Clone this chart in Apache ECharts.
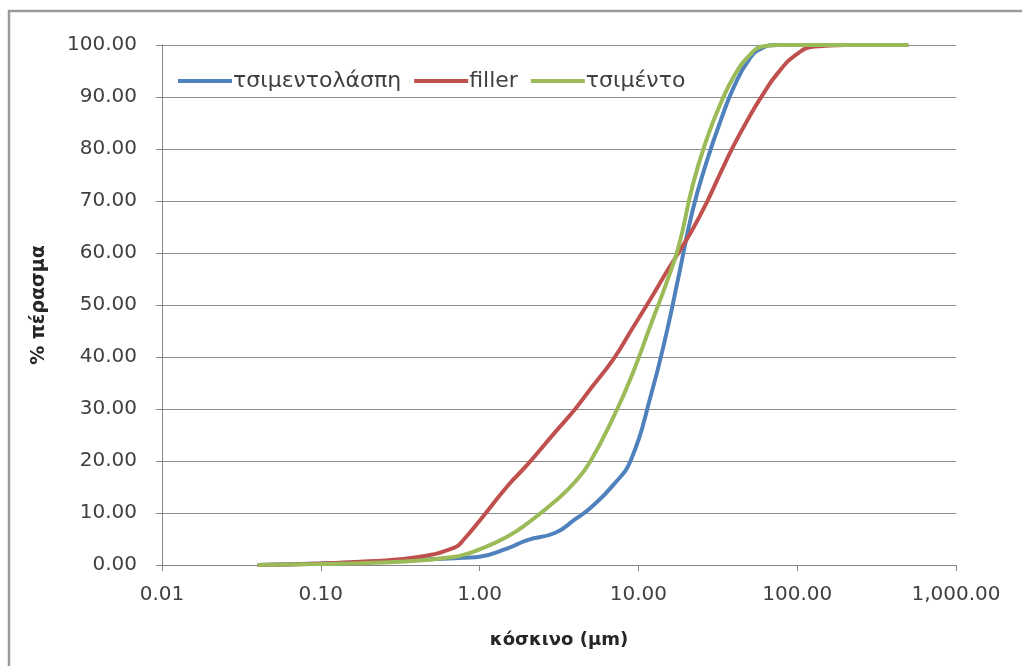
<!DOCTYPE html>
<html>
<head>
<meta charset="utf-8">
<script src="https://cdn.jsdelivr.net/npm/echarts@6/dist/echarts.min.js"></script>
<style>
  html, body { margin: 0; padding: 0; background: #fff; }
  #chart { width: 1022px; height: 666px; }
</style>
</head>
<body>
<div id="chart"></div>
<script>
// sieve sizes (μm) and % passing
const sizes = [0.04, 0.1, 0.2, 0.4, 0.7, 0.8, 1, 1.5, 2, 3, 4, 5, 7, 9, 12, 15, 18, 22, 27, 33, 40, 50, 60, 75, 100, 130, 200, 500]
const slurry = [0, 0.3, 0.6, 1.0, 1.3, 1.4, 1.6, 3.2, 4.8, 6.2, 8.8, 11, 15.5, 20.3, 32.7, 44.5, 55.8, 68.3, 77.7, 85.5, 92, 97.3, 99.4, 100, 100, 100, 100, 100]
const filler = [0, 0.3, 0.7, 1.5, 3.4, 5.0, 8.5, 15.2, 19.3, 25.6, 30, 33.9, 39.7, 45.1, 51.3, 56.3, 60.2, 64.6, 69.8, 75.5, 80.8, 86.2, 90.2, 94.5, 98.3, 99.7, 100, 100]
const cement = [0, 0.2, 0.4, 0.8, 1.6, 2.0, 3.0, 5.5, 8, 12.3, 16, 20, 28.6, 36.1, 46.3, 54.2, 61.5, 73.1, 82, 88.8, 94, 98, 99.7, 100, 100, 100, 100, 100]

const seriesNames = ['τσιμεντολάσπη', 'filler', 'τσιμέντο']
const colors = ['#4F81BD', '#C0504D', '#9BBB59']

const font = '"DejaVu Sans", "Noto Sans", sans-serif'

function pairs(vals) {
  return sizes.map((s, i) => [s, vals[i]])
}

const chart = echarts.init(document.getElementById('chart'))
const option = {
  animation: false,
  color: colors,
  textStyle: { fontFamily: font },
  graphic: [
    {
      type: 'rect',
      shape: { x: 9, y: 11, width: 1100, height: 700 },
      style: { fill: 'none', stroke: '#9a9a9a', lineWidth: 2.5 }
    }
  ],
  grid: { left: 162, right: 66, top: 45, bottom: 101 },
  legend: {
    left: 173,
    top: 65,
    itemWidth: 54,
    itemHeight: 4,
    itemGap: 13,
    icon: 'rect',
    textStyle: { fontSize: 22, color: '#404040', fontFamily: font, padding: [0, 0, 0, -4] },
    data: seriesNames
  },
  xAxis: {
    type: 'log',
    logBase: 10,
    min: 0.01,
    max: 1000,
    name: 'κόσκινο (μm)',
    nameLocation: 'middle',
    nameGap: 66,
    nameTextStyle: { fontSize: 18, fontWeight: 'bold', color: '#262626', fontFamily: font },
    axisLine: { lineStyle: { color: '#868686', width: 1 } },
    axisTick: { show: true, length: 6, lineStyle: { color: '#868686' } },
    minorTick: { show: false },
    splitLine: { show: false },
    axisLabel: {
      fontSize: 20,
      color: '#404040',
      margin: 20,
      formatter(v) {
        return Number(v).toLocaleString('en-US', { minimumFractionDigits: 2, maximumFractionDigits: 2 })
      }
    }
  },
  yAxis: {
    type: 'value',
    min: 0,
    max: 100,
    interval: 10,
    name: '% πέρασμα',
    nameLocation: 'middle',
    nameGap: 113,
    nameTextStyle: { fontSize: 19, fontWeight: 'bold', color: '#262626', fontFamily: font },
    axisLine: { show: true, lineStyle: { color: '#868686', width: 1 } },
    axisTick: { show: true, length: 6, lineStyle: { color: '#868686' } },
    splitLine: { lineStyle: { color: '#8c8c8c', width: 1 } },
    axisLabel: {
      fontSize: 20,
      color: '#404040',
      margin: 25,
      formatter(v) {
        return v.toFixed(2)
      }
    }
  },
  series: [slurry, filler, cement].map((vals, i) => ({
    name: seriesNames[i],
    type: 'line',
    smooth: 0.5,
    showSymbol: false,
    data: pairs(vals),
    lineStyle: { width: 4, color: colors[i] },
    itemStyle: { color: colors[i] }
  }))
}
chart.setOption(option)
</script>
</body>
</html>
